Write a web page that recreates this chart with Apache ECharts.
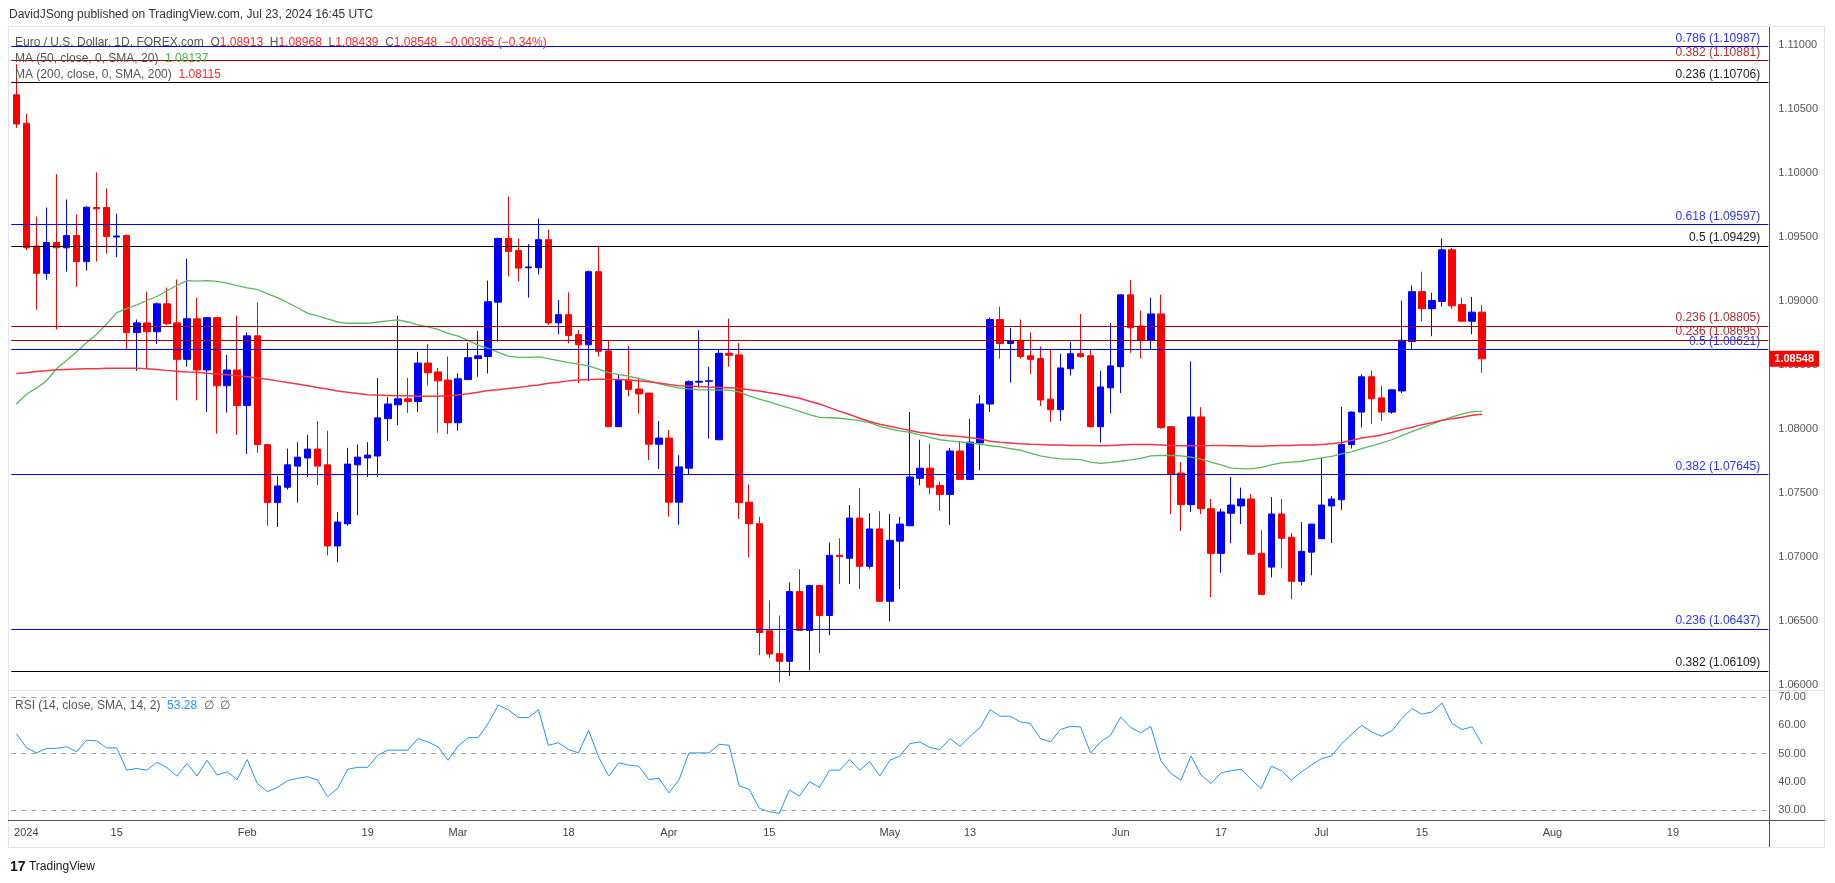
<!DOCTYPE html>
<html><head><meta charset="utf-8">
<script src="https://cdn.jsdelivr.net/npm/echarts/dist/echarts.min.js"></script>
<style>html,body{margin:0;padding:0;background:#fff;}#c{width:1835px;height:883px;}</style>
</head><body><div id="c"></div>
<script>
// ---------- DATA ----------
const tradeDays = {
  '2023-12': [29],
  '2024-01': [2,3,4,5,8,9,10,11,12,15,16,17,18,19,22,23,24,25,26,29,30,31],
  '2024-02': [1,2,5,6,7,8,9,12,13,14,15,16,19,20,21,22,23,26,27,28,29],
  '2024-03': [1,4,5,6,7,8,11,12,13,14,15,18,19,20,21,22,25,26,27,28,29],
  '2024-04': [1,2,3,4,5,8,9,10,11,12,15,16,17,18,19,22,23,24,25,26,29,30],
  '2024-05': [1,2,3,6,7,8,9,10,13,14,15,16,17,20,21,22,23,24,27,28,29,30,31],
  '2024-06': [3,4,5,6,7,10,11,12,13,14,17,18,19,20,21,24,25,26,27,28],
  '2024-07': [1,2,3,4,5,8,9,10,11,12,15,16,17,18,19,22,23]
};
const futureDays = {
  '2024-07': [24,25,26,29,30,31],
  '2024-08': [1,2,5,6,7,8,9,12,13,14,15,16,19,20,21,22,23,26,27,28,29,30]
};
const opens = [1.10611,1.10389,1.09429,1.09216,1.09457,1.09416,1.09511,1.09308,1.0973,1.0973,
1.095,1.09511,1.08753,1.08829,1.0876,1.08978,1.08829,1.08544,1.08861,1.08461,
1.0887,1.08338,1.08461,1.08183,1.08728,1.07878,1.07425,1.07545,1.0771,1.07774,
1.07843,1.0772,1.07086,1.0726,1.0772,1.07774,1.07789,1.08081,1.08189,1.08236,
1.08214,1.08515,1.08446,1.08382,1.08049,1.08386,1.0855,1.08566,1.08991,1.09489,
1.09394,1.0926,1.0926,1.09479,1.08829,1.08893,1.08737,1.08658,1.09229,1.0861,
1.08018,1.08382,1.08312,1.08281,1.07881,1.07929,1.07428,1.07694,1.08366,1.08373,
1.07916,1.08591,1.08579,1.07428,1.0726,1.06423,1.06245,1.06185,1.0673,1.06426,
1.06778,1.06543,1.07013,1.0699,1.07304,1.06927,1.07219,1.06654,1.07124,1.07244,
1.07615,1.07694,1.07558,1.07488,1.07828,1.07606,1.07891,1.08195,1.08855,1.08668,
1.08693,1.08572,1.0855,1.08233,1.08151,1.08471,1.08588,1.08572,1.08018,1.08322,
1.08487,1.09048,1.08804,1.08693,1.08899,1.08018,1.07656,1.07409,1.08094,1.07377,
1.07028,1.07342,1.07399,1.07453,1.07029,1.06921,1.07336,1.07155,1.0681,1.07038,
1.07143,1.07399,1.07447,1.07878,1.08132,1.08408,1.08243,1.08132,1.08297,1.08683,
1.09073,1.0894,1.08997,1.094,1.08972,1.08842,1.08913];
const highs = [1.10849,1.10462,1.0966,1.0973,1.0999,1.09793,1.09676,1.09739,1.10005,1.09879,
1.09682,1.0952,1.08855,1.09073,1.08988,1.09105,1.09168,1.0933,1.09026,1.0887,
1.0887,1.08579,1.08886,1.08753,1.08988,1.07878,1.07631,1.07846,1.07897,1.07954,
1.08062,1.07986,1.07352,1.07853,1.07878,1.07897,1.08398,1.08249,1.08883,1.08398,
1.08604,1.08664,1.08477,1.08566,1.08436,1.08674,1.08766,1.09159,1.09495,1.09815,
1.09489,1.09444,1.09644,1.09558,1.09007,1.09067,1.08775,1.09238,1.09432,1.08693,
1.0843,1.08649,1.08401,1.08281,1.08062,1.07992,1.07796,1.0838,1.08772,1.08487,
1.0862,1.08861,1.08671,1.07567,1.07314,1.06661,1.06543,1.06803,1.06905,1.06778,
1.06778,1.07114,1.07146,1.07406,1.07539,1.07342,1.07358,1.07336,1.07314,1.08132,
1.07916,1.07885,1.0759,1.07853,1.07907,1.08081,1.08265,1.0887,1.08956,1.08791,
1.08855,1.08753,1.08645,1.0862,1.08588,1.0868,1.08899,1.0862,1.08455,1.08829,
1.09048,1.09165,1.08924,1.09026,1.09048,1.08018,1.07742,1.08528,1.0817,1.07453,
1.07377,1.07625,1.07542,1.07491,1.07209,1.07469,1.07453,1.07187,1.07273,1.07257,
1.07774,1.07476,1.08173,1.08138,1.08427,1.08455,1.08338,1.08312,1.09004,1.09121,
1.09229,1.09064,1.09489,1.09416,1.09026,1.09032,1.08968];
const lows = [1.10351,1.09397,1.08931,1.09165,1.08778,1.09229,1.09111,1.09238,1.09308,1.09371,
1.09343,1.08626,1.08455,1.08471,1.08664,1.0881,1.08224,1.08487,1.08224,1.08132,
1.07964,1.08129,1.07954,1.07805,1.07815,1.07244,1.07235,1.07526,1.07425,1.07625,
1.07561,1.07013,1.06959,1.07244,1.07327,1.07625,1.07625,1.07907,1.0803,1.08125,
1.08132,1.08338,1.0797,1.07961,1.07986,1.08386,1.08408,1.08433,1.08683,1.09191,
1.09153,1.09026,1.09207,1.08813,1.0874,1.08668,1.08357,1.08373,1.08566,1.08018,
1.08018,1.08255,1.08119,1.07758,1.07688,1.07314,1.07251,1.07647,1.08322,1.07926,
1.07916,1.08487,1.07298,1.06997,1.06233,1.06211,1.0602,1.06071,1.06426,1.06115,
1.06249,1.06388,1.06788,1.06788,1.0675,1.06908,1.06654,1.06496,1.0675,1.07244,
1.07561,1.07488,1.07361,1.07251,1.07606,1.07606,1.07678,1.08132,1.0855,1.08363,
1.0855,1.0843,1.08179,1.08056,1.08062,1.08417,1.08557,1.08011,1.07894,1.08122,
1.08281,1.08595,1.0855,1.08623,1.08002,1.07336,1.07203,1.07352,1.07336,1.06686,
1.06876,1.07108,1.07257,1.07022,1.06708,1.06841,1.06911,1.0667,1.06778,1.06857,
1.07143,1.07108,1.07368,1.07847,1.08011,1.0804,1.08062,1.08119,1.08281,1.08623,
1.08842,1.08725,1.08956,1.0894,1.08842,1.0874,1.08439];
const closes = [1.10383,1.09416,1.09216,1.09457,1.09416,1.09511,1.09308,1.09733,1.0972,1.09505,
1.09508,1.08753,1.08829,1.0876,1.08978,1.08823,1.08544,1.08861,1.08461,1.0887,
1.08338,1.08461,1.08183,1.08728,1.07878,1.07425,1.07555,1.0772,1.0778,1.07843,
1.0771,1.07086,1.07273,1.07726,1.0778,1.07796,1.08087,1.08195,1.08236,1.08214,
1.08515,1.08439,1.08376,1.08049,1.08392,1.08557,1.08572,1.08994,1.09489,1.09387,
1.09257,1.09266,1.09479,1.08829,1.08893,1.08731,1.08658,1.09229,1.08607,1.08018,
1.08382,1.08309,1.08274,1.07881,1.07929,1.07428,1.07704,1.0837,1.08373,1.08376,
1.08591,1.08576,1.07425,1.0726,1.0641,1.06242,1.06185,1.0673,1.06426,1.06778,
1.06543,1.07013,1.07003,1.07304,1.06927,1.07219,1.06654,1.0713,1.07257,1.07625,
1.07694,1.07545,1.07488,1.07828,1.07606,1.07897,1.08195,1.08855,1.08668,1.08687,
1.08566,1.08544,1.08227,1.08151,1.08477,1.08588,1.08566,1.08018,1.08328,1.08493,
1.09048,1.08791,1.08693,1.08899,1.08011,1.07647,1.07409,1.08094,1.07377,1.07028,
1.07352,1.07406,1.07453,1.07022,1.06708,1.07336,1.07146,1.0681,1.07044,1.07257,
1.07406,1.07453,1.07878,1.08132,1.08408,1.08236,1.08132,1.08306,1.08693,1.09073,
1.0894,1.09004,1.094,1.08962,1.08842,1.08913,1.08548];
const ma50 = [1.08195,1.08271,1.08319,1.08376,1.08471,1.08535,1.08604,1.08674,1.0874,1.0882,
1.08909,1.0894,1.08969,1.09004,1.09035,1.0908,1.09121,1.09159,1.09156,1.09159,
1.09153,1.0914,1.09121,1.09102,1.0909,1.09058,1.09026,1.08988,1.08947,1.08905,
1.08883,1.08861,1.08836,1.08826,1.08826,1.08826,1.08836,1.08845,1.08852,1.08836,
1.08813,1.08798,1.08779,1.08747,1.08725,1.08693,1.08655,1.0863,1.08598,1.0857,
1.0856,1.0856,1.08563,1.0855,1.08535,1.08519,1.08506,1.08493,1.08468,1.0844,
1.08424,1.08414,1.08395,1.08376,1.08354,1.08335,1.08322,1.08313,1.08306,1.08306,
1.08303,1.08303,1.0829,1.08259,1.08233,1.08211,1.08186,1.08164,1.08138,1.08113,
1.08091,1.08088,1.08084,1.08075,1.08065,1.08049,1.08021,1.08002,1.07986,1.07973,
1.07954,1.07935,1.07916,1.07907,1.079,1.07891,1.07881,1.07869,1.0786,1.07847,
1.07834,1.07812,1.0779,1.07777,1.07767,1.07764,1.07761,1.07742,1.07732,1.07739,
1.07748,1.07758,1.07771,1.0779,1.07793,1.07793,1.0779,1.0778,1.07764,1.07742,
1.0772,1.07694,1.07691,1.07688,1.07701,1.0772,1.07736,1.07742,1.07748,1.07761,
1.07774,1.07786,1.07805,1.07821,1.07847,1.07869,1.07891,1.07916,1.07948,1.0798,
1.08008,1.08037,1.08068,1.08094,1.08116,1.08135,1.08137];
const ma200 = [1.08433,1.08439,1.08449,1.08455,1.08462,1.08465,1.08468,1.08471,1.08471,1.08474,
1.08474,1.08474,1.08474,1.08471,1.08465,1.08458,1.08452,1.08446,1.08443,1.08436,
1.0843,1.08424,1.08417,1.08408,1.08398,1.08389,1.08376,1.08363,1.08351,1.08338,
1.08325,1.08313,1.08297,1.08287,1.08278,1.08268,1.08265,1.08262,1.08259,1.08259,
1.08256,1.08256,1.08256,1.08259,1.08265,1.08275,1.08287,1.083,1.08306,1.08316,
1.08325,1.08335,1.08344,1.08357,1.08366,1.08376,1.08382,1.08386,1.08389,1.08389,
1.08386,1.08382,1.08376,1.0837,1.0836,1.08348,1.08338,1.08335,1.08332,1.08328,
1.08325,1.08322,1.08319,1.08306,1.08297,1.08284,1.08271,1.08256,1.0824,1.08217,
1.08195,1.08167,1.08138,1.08113,1.08084,1.08059,1.08037,1.08021,1.08005,1.07989,
1.07973,1.07964,1.07954,1.07948,1.07942,1.07932,1.07923,1.07904,1.07897,1.07891,
1.07885,1.07881,1.07878,1.07875,1.07875,1.07872,1.07872,1.07872,1.07869,1.07872,
1.07875,1.07878,1.07878,1.07878,1.07875,1.07872,1.07869,1.07869,1.07869,1.07872,
1.07872,1.07869,1.07869,1.07866,1.07866,1.07869,1.07872,1.07872,1.07875,1.07875,
1.07878,1.07885,1.07894,1.0791,1.07929,1.07942,1.07954,1.07973,1.07995,1.08014,
1.08034,1.08049,1.08068,1.08081,1.08091,1.08107,1.08115];
const rsi = [57,52.1,50.2,51.8,51.8,52.4,50.6,54.7,54.5,52,
52,44.1,44.7,44.1,46.9,45,42,46.5,42,47.6,
42.4,43.5,40.8,47.9,39.4,36.5,38,40.4,41.2,41.8,
40.6,34.7,37.6,44.4,45.1,45.1,49.4,51.2,51.2,51.2,
55.3,54.1,52.4,47.6,52.6,55.6,55.6,60.6,67.1,65.5,
62.7,62.7,65.5,52.9,53.8,51.4,50.2,58.2,48.8,42,
46.7,45.9,45.5,40.8,41.2,36.1,40.6,50.2,50.2,50.2,
53.3,52.9,38.5,37.3,30.6,29.4,28.8,37.1,34.9,40,
38,44.1,44.1,47.9,44.1,47.1,42,47.6,49.1,53.5,
54.1,52.1,51.4,55.3,52.6,56.1,59.2,65.5,63.2,63.2,
61.2,60.6,55.3,54.1,58.5,59.6,59.4,50.2,54.1,56.5,
62.9,59.2,57.3,59.6,47.4,42.9,40.6,49.1,42.4,39.4,
43.2,43.9,44.4,40.8,37.6,45.5,43.9,40.6,43.5,45.9,
48.2,49.1,53.5,56.8,60,57.6,56.1,58,62.4,65.9,
63.9,64.7,67.9,60.6,58.5,59.4,53.28];
const fibValues = [1.10987,1.10881,1.10706,1.09597,1.09429,1.08805,1.08695,1.08621,1.07645,1.06437,1.06109];
const fibRatios = ['0.786','0.382','0.236','0.618','0.5','0.236','0.236','0.5','0.382','0.236','0.382'];
const fibGroup  = ['A','B','C','A','C','B','B','A','A','A','C'];
const xTicks = [['2024-01-02','2024'],['2024-01-15','15'],['2024-02-01','Feb'],['2024-02-19','19'],
['2024-03-01','Mar'],['2024-03-18','18'],['2024-04-01','Apr'],['2024-04-15','15'],['2024-05-01','May'],
['2024-05-13','13'],['2024-06-03','Jun'],['2024-06-17','17'],['2024-07-01','Jul'],['2024-07-15','15'],
['2024-08-01','Aug'],['2024-08-19','19']];
const priceAxis = {min:1.06, max:1.11, step:0.005};
const rsiAxis = {min:30, max:70, step:10, bands:[70,50,30]};

// ---------- BUILD ----------
function flat(obj){const out=[];Object.keys(obj).forEach(m=>obj[m].forEach(d=>out.push(m+'-'+String(d).padStart(2,'0'))));return out;}
const dates = flat(tradeDays);
const cats = dates.concat(flat(futureDays));
const tickMap = new Map(xTicks);
const N = closes.length;
const lastC = closes[N-1], prevC = closes[N-2];
const chg = lastC - prevC;
const FONT = "'Liberation Sans', Arial, sans-serif";
const fibLine = {A:'#0000ff', B:'#a00000', C:'#000000'};
const fibTxt = {A:'#2a35ff', B:'#b03030', C:'#222222'};

const fibMarks = fibValues.map((v,k)=>({
  yAxis: v,
  lineStyle: {color: fibLine[fibGroup[k]], width: 1.2, type: 'solid'},
  label: {show: true, position: 'insideEndTop', formatter: fibRatios[k]+' ('+v.toFixed(5)+')',
    color: fibTxt[fibGroup[k]], fontSize: 12, fontFamily: FONT, distance: [8, 2]}
}));
fibMarks.push({
  yAxis: lastC,
  lineStyle: {width: 1, color: 'rgba(255,255,255,0)'},
  label: {show: true, position: 'end', formatter: lastC.toFixed(5), backgroundColor: '#ff0000',
    color: '#ffffff', fontWeight: 'bold', fontSize: 11, fontFamily: FONT, padding: [3,5,2,5], distance: 1}
});

const gridL = 11.28, gridW = 1757;
const chart = echarts.init(document.getElementById('c'), null, {renderer: 'canvas'});
const fmt = (s)=>s.toFixed(5);
chart.setOption({
  animation: false,
  backgroundColor: '#ffffff',
  grid: [
    {left: gridL, width: gridW, top: 45, height: 640},
    {left: gridL, width: gridW, top: 697, height: 113}
  ],
  xAxis: [
    {type: 'category', gridIndex: 0, data: cats, boundaryGap: true, show: false},
    {type: 'category', gridIndex: 1, data: cats, boundaryGap: true, offset: 10,
     axisLine: {show: false}, axisTick: {show: false}, splitLine: {show: false},
     axisLabel: {interval: (i, v) => tickMap.has(v), formatter: v => tickMap.get(v) || '',
       color: '#444', fontSize: 11, fontFamily: FONT, margin: 7}}
  ],
  yAxis: [
    {type: 'value', gridIndex: 0, position: 'right', min: priceAxis.min, max: priceAxis.max, interval: priceAxis.step,
     axisLine: {show: false}, axisTick: {show: false}, splitLine: {show: false},
     axisLabel: {formatter: v => v.toFixed(5), color: '#555', fontSize: 11, fontFamily: FONT, margin: 10, align: 'left'}},
    {type: 'value', gridIndex: 1, position: 'right', min: rsiAxis.min, max: rsiAxis.max, interval: rsiAxis.step,
     axisLine: {show: false}, axisTick: {show: false}, splitLine: {show: false},
     axisLabel: {formatter: v => v.toFixed(2), color: '#555', fontSize: 11, fontFamily: FONT, margin: 10, align: 'left'}}
  ],
  series: [
    {type: 'candlestick', xAxisIndex: 0, yAxisIndex: 0, barWidth: 7,
     data: opens.map((o,k)=>[o, closes[k], lows[k], highs[k]]),
     itemStyle: {color: '#0000ff', color0: '#ff0000', borderColor: '#0000ff', borderColor0: '#ff0000', borderWidth: 1},
     markLine: {symbol: 'none', silent: true, animation: false, precision: 5, z: 10, data: fibMarks}},
    {type: 'line', name: 'MA50', xAxisIndex: 0, yAxisIndex: 0, data: ma50, showSymbol: false, z: 3,
     lineStyle: {color: '#5cb85c', width: 1.3}, itemStyle: {color: '#5cb85c'}},
    {type: 'line', name: 'MA200', xAxisIndex: 0, yAxisIndex: 0, data: ma200, showSymbol: false, z: 3,
     lineStyle: {color: '#f23645', width: 1.5}, itemStyle: {color: '#f23645'}},
    {type: 'line', name: 'RSI', xAxisIndex: 1, yAxisIndex: 1, data: rsi, showSymbol: false, clip: false,
     lineStyle: {color: '#2196f3', width: 1}, itemStyle: {color: '#2196f3'},
     markLine: {symbol: 'none', silent: true, precision: 2, label: {show: false},
       lineStyle: {color: '#a0a0a0', type: [5,5], width: 1},
       data: rsiAxis.bands.map(b => ({yAxis: b}))}}
  ],
  graphic: [
    {type: 'rect', silent: true, z: -10, shape: {x: 8.5, y: 26.5, width: 1816, height: 821},
     style: {fill: null, stroke: '#e0e3eb', lineWidth: 1}},
    {type: 'line', silent: true, shape: {x1: 8, y1: 690.5, x2: 1825, y2: 690.5}, style: {stroke: '#e0e3eb', lineWidth: 1}},
    {type: 'line', silent: true, shape: {x1: 8, y1: 820.5, x2: 1825, y2: 820.5}, style: {stroke: '#555', lineWidth: 1}},
    {type: 'line', silent: true, shape: {x1: 1769.5, y1: 27, x2: 1769.5, y2: 847}, style: {stroke: '#555', lineWidth: 1}},
    {type: 'text', silent: true, style: {x: 9, y: 15, verticalAlign: 'middle', fill: '#333',
      font: '12px ' + FONT, text: 'DavidJSong published on TradingView.com, Jul 23, 2024 16:45 UTC'}},
    {type: 'text', silent: true, z: 50, style: {x: 15, y: 43, verticalAlign: 'middle', font: '12px ' + FONT,
      text: '{t|Euro / U.S. Dollar, 1D, FOREX.com}  {g|O}{r|' + fmt(opens[N-1]) + '}  {g|H}{r|' + fmt(highs[N-1]) +
        '}  {g|L}{r|' + fmt(lows[N-1]) + '}  {g|C}{r|' + fmt(lastC) + '}  {r|' + (chg<0?'\u2212':'+') + Math.abs(chg).toFixed(5) +
        ' (' + (chg<0?'\u2212':'+') + Math.abs(chg/prevC*100).toFixed(2) + '%)}',
      rich: {t: {fill: '#555', font: '12px ' + FONT}, g: {fill: '#555', font: '12px ' + FONT}, r: {fill: '#ff2a2a', font: '12px ' + FONT}}}},
    {type: 'text', silent: true, z: 50, style: {x: 15, y: 59, verticalAlign: 'middle', font: '12px ' + FONT,
      text: '{t|MA (50, close, 0, SMA, 20)}  {v|' + fmt(ma50[N-1]) + '}',
      rich: {t: {fill: '#555', font: '12px ' + FONT}, v: {fill: '#4caf50', font: '12px ' + FONT}}}},
    {type: 'text', silent: true, z: 50, style: {x: 15, y: 75, verticalAlign: 'middle', font: '12px ' + FONT,
      text: '{t|MA (200, close, 0, SMA, 200)}  {v|' + fmt(ma200[N-1]) + '}',
      rich: {t: {fill: '#555', font: '12px ' + FONT}, v: {fill: '#ff2a2a', font: '12px ' + FONT}}}},
    {type: 'text', silent: true, z: 50, style: {x: 15, y: 706, verticalAlign: 'middle', font: '12px ' + FONT,
      text: '{t|RSI (14, close, SMA, 14, 2)}  {v|' + rsi[N-1].toFixed(2) + '}  {t|\u2205  \u2205}',
      rich: {t: {fill: '#555', font: '12px ' + FONT}, v: {fill: '#2196f3', font: '12px ' + FONT}}}},
    {type: 'text', silent: true, style: {x: 10, y: 867, verticalAlign: 'middle', font: '12px ' + FONT,
      text: '{l|17} {t|TradingView}',
      rich: {l: {fill: '#131722', font: 'bold 14px ' + FONT}, t: {fill: '#131722', font: '12px ' + FONT}}}}
  ]
});
</script></body></html>
